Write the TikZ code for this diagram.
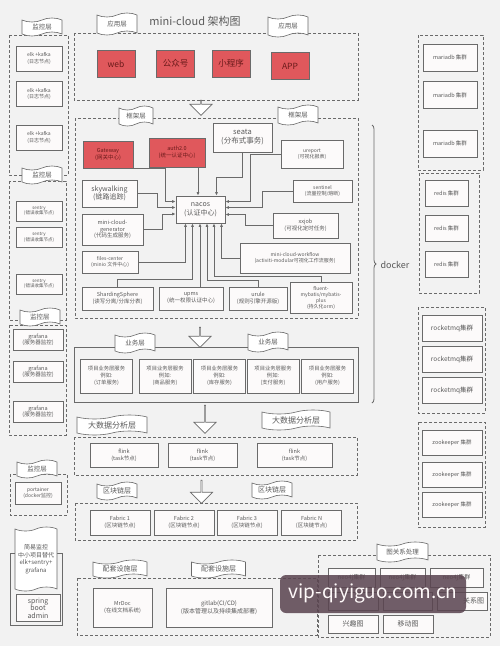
\documentclass[tikz,border=0pt]{standalone}
\usepackage{fontspec}
\setmainfont{Noto Sans CJK SC}
\usetikzlibrary{arrows.meta,shapes.symbols,shapes.arrows,decorations.pathreplacing}

\definecolor{bggrey}{HTML}{F2F2F2}
\definecolor{boxline}{HTML}{6A6A6A}
\definecolor{boxfill}{HTML}{FCFAFA}
\definecolor{txtgrey}{HTML}{5A5A5A}
\definecolor{appred}{HTML}{E0585C}
\definecolor{redtxt}{HTML}{6A1A1A}
\definecolor{markband}{HTML}{5A4450}

\newcommand\setfs[2]{\fontsize{#1}{#2}\selectfont}

\tikzset{
  box/.style={draw=boxline, fill=boxfill, line width=0.7pt, align=center, text=txtgrey, inner sep=1pt},
  redbox/.style={box, fill=appred, text=redtxt},
  banner/.style={tape, draw=boxline, fill=white, line width=0.6pt, tape bend height=4pt,
    inner sep=1pt, text=txtgrey, align=center, minimum width=40pt, minimum height=18pt,
    font=\setfs{6.5}{7}},
  layer/.style={draw=boxline, line width=0.7pt, dash pattern=on 3pt off 2pt},
  flow/.style={single arrow, draw=boxline, fill=white, line width=0.7pt, shape border rotate=270,
    single arrow head extend=6pt, single arrow head indent=0pt, inner sep=0pt, minimum width=22pt},
  link/.style={draw=boxline, line width=0.7pt, -{Latex[length=3.5pt,width=3pt]}},
}

\begin{document}
\begin{tikzpicture}[x=1pt,y=-1pt]
\useasboundingbox[fill=bggrey] (0,0) rectangle (500,646);
% ---- left: monitoring ----
\draw[layer] (9,35) rectangle (68,175);
\node[banner] (mon1) at (42,27) {监控层};
\foreach \y [count=\i] in {58.5,94,137.5}{
  \node[box, minimum width=46pt, minimum height=25pt, font=\setfs{5}{6.5}] (elk\i) at (39,\y) {elk +kafka\\(日志节点)};}
\draw[layer] (9,181) rectangle (66,320);
\node[banner] (mon2) at (42,175) {监控层};
\foreach \y [count=\i] in {211,237.5,284}{
  \node[box, minimum width=46pt, minimum height=20pt, font=\setfs{4.5}{5.5}] (sentry\i) at (39,\y) {sentry\\(错误收集节点)};}
\draw[layer] (9,325) rectangle (66,435);
\node[banner] (mon3) at (40,317) {监控层};
\foreach \y [count=\i] in {340,372,412}{
  \node[box, minimum width=50pt, minimum height=21pt, font=\setfs{5.5}{6.5}] (grafana\i) at (38,\y) {grafana\\(服务器监控)};}
\draw[layer] (10,474) rectangle (67,515);
\node[banner] (mon4) at (37,469) {监控层};
\node[box, minimum width=46pt, minimum height=22pt, font=\setfs{5}{6.5}] (portainer) at (38,493) {portainer\\(docker监控)};
\draw[boxline, line width=0.7pt] (10,553) rectangle (62,625);
\node[banner, minimum width=42pt, minimum height=64pt, font=\setfs{6}{7.5}] (easymon) at (36,559) {简易监控\\中小项目替代\\elk+sentry+\\grafana};
\node[box, minimum width=44pt, minimum height=27pt, font=\setfs{7}{7.5}] (sba) at (38,608) {spring\\boot\\admin};
% ---- application layer ----
\node[font=\setfs{11}{12}, text=txtgrey] (title) at (195,21) {mini-cloud 架构图};
\draw[layer] (74,33) rectangle (358,100);
\node[banner, minimum height=22pt] (appban1) at (117,24) {应用层};
\node[banner, minimum height=22pt] (appban2) at (288,26) {应用层};
\foreach \x/\y/\t [count=\i] in {116/64/web,175.5/63.5/公众号,231/63.5/小程序,290/66/APP}{
  \node[redbox, minimum width=38pt, minimum height=27pt, font=\setfs{8.5}{9}] (client\i) at (\x,\y) {\t};}
\node[flow, minimum height=15pt] (down1) at (201,107.5) {};
% ---- framework layer ----
\draw[layer] (75,118) rectangle (358,318);
\node[banner, minimum width=34pt, minimum height=20pt] (fwban1) at (136,116) {框架层};
\node[banner, minimum height=20pt] (fwban2) at (298,115) {框架层};
\node[redbox, minimum width=50pt, minimum height=27pt, font=\setfs{5.5}{7}] (gate) at (108,154.5) {Gateway\\(网关中心)};
\node[redbox, minimum width=56pt, minimum height=29pt, font=\setfs{5.5}{7}] (auth) at (177,152.5) {auth2.0\\(统一认证中心)};
\node[box, minimum width=59pt, minimum height=29pt, font=\setfs{7.5}{9}] (seata) at (242.5,137.5) {seata\\(分布式事务)};
\node[box, minimum width=62pt, minimum height=28pt, font=\setfs{5}{6.5}] (ureport) at (312,154) {ureport\\(可视化报表)};
\node[box, minimum width=55pt, minimum height=27pt, font=\setfs{7}{8.5}] (sky) at (109.5,193.5) {skywalking\\(链路追踪)};
\node[box, minimum width=59pt, minimum height=22pt, font=\setfs{5}{6.5}] (sentinel) at (322.5,191) {sentinel\\(流量控制/熔断)};
\node[box, minimum width=49pt, minimum height=27pt, font=\setfs{7}{8.5}] (nacos) at (200.5,209.5) {nacos\\(认证中心)};
\node[box, minimum width=61pt, minimum height=31pt, font=\setfs{5.5}{6.5}] (gen) at (112.5,229.5) {mini-cloud-\\generator\\(代码生成服务)};
\node[box, minimum width=65pt, minimum height=25pt, font=\setfs{5.5}{7}] (xxjob) at (305.5,225.5) {xxjob\\(可视化定时任务)};
\node[box, minimum width=56pt, minimum height=22pt, font=\setfs{5}{6.5}] (files) at (110,262) {files-center\\(minio 文件中心)};
\node[box, minimum width=110pt, minimum height=30pt, font=\setfs{5}{6.5}] (workflow) at (295,258) {mini-cloud-workflow\\(activiti-modular可视化工作流服务)};
\node[box, minimum width=71pt, minimum height=23pt, font=\setfs{5.5}{7}] (shard) at (117.5,298.5) {ShardingSphere\\(读写分离/分库分表)};
\node[box, minimum width=64pt, minimum height=23pt, font=\setfs{5.5}{7}] (upms) at (191,298.5) {upms\\(统一权限认证中心)};
\node[box, minimum width=58pt, minimum height=23pt, font=\setfs{5.5}{7}] (urule) at (258,298.5) {urule\\(规则引擎开源版)};
\node[box, minimum width=62pt, minimum height=31pt, font=\setfs{5}{6}] (fluent) at (321,297.5) {fluent-\\mybatis/mybatis-\\plus\\(持久化orm)};
% links into nacos
\draw[link] (gate.south east) -| ([xshift=-10pt,yshift=8pt]nacos.west) -- ([yshift=8pt]nacos.west);
\draw[link] (sky.east) -| ([xshift=-18pt,yshift=2pt]nacos.west) -- ([yshift=2pt]nacos.west);
\draw[link] (gen.east) -| ([xshift=-13pt,yshift=-4.5pt]nacos.west) -- ([yshift=-4.5pt]nacos.west);
\draw[link] ([xshift=21pt]auth.south) -- ([xshift=21pt]auth.south |- nacos.north);
\draw[link] (seata.south) -- ++(0,25) -| ([xshift=16pt]nacos.north);
\draw[link] (ureport.west) -| ([xshift=25pt,yshift=8pt]nacos.east) -- ([yshift=8pt]nacos.east);
\draw[link] (sentinel.west) -| ([xshift=37pt,yshift=2pt]nacos.east) -- ([yshift=2pt]nacos.east);
\draw[link] (xxjob.west) -| ([xshift=20pt,yshift=-5pt]nacos.east) -- ([yshift=-5pt]nacos.east);
\draw[link] (workflow.west) -| ([xshift=21pt]nacos.south);
\draw[link] (files.east) -| ([xshift=-15pt]nacos.south);
\draw[link] (shard.north) -- ++(0,-7) -| ([xshift=-8pt]nacos.south);
\draw[link] ([xshift=9pt]upms.north) -- ([xshift=9pt]upms.north |- nacos.south);
\draw[link] (urule.north) -- ++(0,-6) -| ([xshift=6.5pt]nacos.south);
\draw[link] (fluent.north) -- ++(0,-5) -| ([xshift=13.5pt]nacos.south);
% ---- business layer ----
\node[flow, minimum height=20pt] (down2) at (200,337) {};
\draw[boxline, line width=0.7pt] (74,347) rectangle (358,402);
\node[banner, minimum height=20pt] (bizban1) at (135,343) {业务层};
\node[banner, minimum height=20pt] (bizban2) at (268,342) {业务层};
\foreach \x/\t [count=\i] in {106.5/订单服务,165/商品服务,219.5/库存服务,273/支付服务,327.5/用户服务}{
  \node[box, minimum width=52pt, minimum height=34pt, font=\setfs{5.3}{7}] (svc\i) at (\x,376) {项目业务层服务\\例如:\\(\t)};}
% ---- big data layer ----
\node[flow, minimum height=28pt] (down3) at (205,419) {};
\draw[layer] (74,437) rectangle (357,475);
\node[banner, minimum width=70pt, minimum height=20pt, font=\setfs{8}{9}] (databan1) at (112,425) {大数据分析层};
\node[banner, minimum width=68pt, minimum height=20pt, font=\setfs{8}{9}] (databan2) at (296,420) {大数据分析层};
\foreach \x/\w [count=\i] in {124/68,202.5/69,294.5/75}{
  \node[box, minimum width=\w pt, minimum height=24pt, font=\setfs{5.5}{7}] (flink\i) at (\x,455) {flink\\(task节点)};}
% ---- blockchain layer ----
\node[flow, minimum height=23pt] (down4) at (201.5,491.5) {};
\draw[layer] (75,503) rectangle (357,540);
\node[banner, font=\setfs{7}{8}] (chainban1) at (117,491) {区块链层};
\node[banner, font=\setfs{7}{8}] (chainban2) at (272,490) {区块链层};
\foreach \x/\t [count=\i] in {120/1,184/2,247/3,311.5/N}{
  \node[box, minimum width=60pt, minimum height=25pt, font=\setfs{5.5}{7}] (fabric\i) at (\x,522.5) {Fabric \t\\(区块链节点)};}
% ---- support layer ----
\draw[layer] (77,578) rectangle (317,635);
\node[banner, minimum width=54pt, font=\setfs{7}{8}] (supban1) at (120,569) {配套设施层};
\node[banner, minimum width=54pt, font=\setfs{7}{8}] (supban2) at (218.5,569) {配套设施层};
\node[box, minimum width=59pt, minimum height=39pt, font=\setfs{5.5}{7}] (mrdoc) at (122.5,607.5) {MrDoc\\(在线文档系统)};
\node[box, minimum width=106pt, minimum height=39pt, font=\setfs{6}{7.5}] (gitlab) at (219,607.5) {gitlab(CI/CD)\\(版本管理以及持续集成部署)};
% ---- graph layer ----
\draw[layer] (318,555) rectangle (490,637);
\node[banner, minimum width=51pt, minimum height=20pt] (graphban) at (402.5,552) {图关系处理};
\foreach \x/\w [count=\i] in {351.5/47,402.5/45,456.5/53}{
  \node[box, minimum width=\w pt, minimum height=19pt, font=\setfs{6}{7}] (neo\i) at (\x,577.5) {neo4j集群};}
\node[box, minimum width=50pt, minimum height=18pt] (rel1) at (353,601) {};
\node[box, minimum width=49pt, minimum height=18pt] (rel2) at (407.5,601) {};
\node[box, minimum width=50pt, minimum height=18pt] (rel3) at (462,601) {};
\node[font=\setfs{7}{8}, text=txtgrey, anchor=east, inner sep=0pt] (rel3txt) at ([xshift=-3pt]rel3.east) {关系图};
\node[box, minimum width=50pt, minimum height=18pt, font=\setfs{7}{8}] (interest) at (353,624) {兴趣图};
\node[box, minimum width=50pt, minimum height=18pt, font=\setfs{7}{8}] (mobile) at (408,624) {移动图};
% ---- docker column ----
\draw[layer] (418,35) rectangle (483,170);
\foreach \y [count=\i] in {57.5,95,143.5}{
  \node[box, minimum width=54pt, minimum height=27pt, font=\setfs{5.5}{7}] (maria\i) at (450,\y) {mariadb 集群};}
\draw[layer] (419,173) rectangle (479,293);
\foreach \y [count=\i] in {193.5,228.5,264.5}{
  \node[box, minimum width=43pt, minimum height=26pt, font=\setfs{5.5}{7}] (redis\i) at (446.5,\y) {redis 集群};}
\draw[layer] (418,307) rectangle (485,413);
\foreach \y [count=\i] in {328.5,359.5,390.5}{
  \node[box, minimum width=60pt, minimum height=26pt, font=\setfs{6.5}{7}] (rocket\i) at (452,\y) {rocketmq集群};}
\draw[layer] (418,422) rectangle (485,527);
\foreach \y [count=\i] in {442.5,474.5,504.5}{
  \node[box, minimum width=60pt, minimum height=25pt, font=\setfs{5.5}{7}] (zk\i) at (452,\y) {zookeeper 集群};}
\coordinate (dtop) at (372,125);
\coordinate (dbot) at (372,403);
\draw[boxline, line width=0.8pt, decorate, decoration={brace, amplitude=4pt}] (dtop) -- (dbot);
\node[font=\setfs{9}{10}, text=txtgrey] (docker) at (395,265) {docker};
% ---- watermark ----
\node[fill=markband, fill opacity=0.86, text opacity=1, rounded corners=6pt, text=white!92!pink,
  minimum width=186pt, minimum height=38pt, font=\setfs{19}{20}] (mark) at (373,594) {vip-qiyiguo.com.cn};
\end{tikzpicture}
\end{document}
